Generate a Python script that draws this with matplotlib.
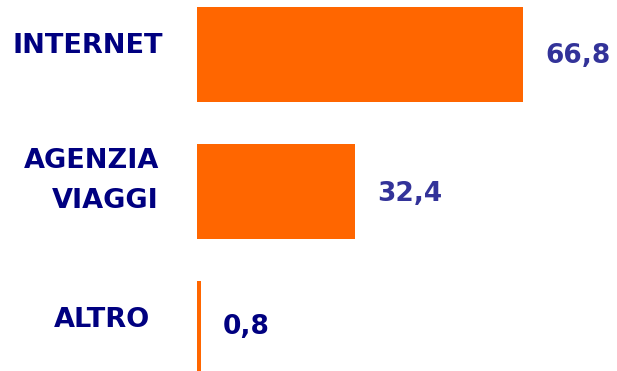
import matplotlib.pyplot as plt

# quota per canale di acquisto (%)
categorie = ["INTERNET", "AGENZIA\nVIAGGI", "ALTRO"]
valori = [66.8, 32.4, 0.8]
etichette = ["66,8", "32,4", "0,8"]
colori_valori = ["#333399", "#333399", "#000080"]

ARANCIO = "#FF6600"
BLU = "#000080"

fig = plt.figure(figsize=(6.17, 3.71), dpi=100)
ax = fig.add_axes([0, 0, 1, 1])

px = 4.88  # pixel per unità
pos = list(range(len(categorie)))
ax.barh(pos, valori, height=0.693, color=ARANCIO, edgecolor="none")

ax.set_xlim(-197 / px, (617 - 197) / px)
ax.set_ylim(2.310, -0.398)
ax.axis("off")

# etichette categorie a sinistra (allineate a destra)
x_cat = [-34 / px, -38 / px, -47 / px]
dy_cat = [-0.065, -0.08, -0.06]
for y, testo, xc, dy in zip(pos, categorie, x_cat, dy_cat):
    ax.text(xc, y + dy, testo, ha="right", va="center", multialignment="right",
            fontsize=19.5, fontweight="bold", color=BLU,
            family="DejaVu Sans", linespacing=1.7)

# valori a destra delle barre
dy_val = [0.01, 0.02, -0.01]
for y, v, lab, c, dy in zip(pos, valori, etichette, colori_valori, dy_val):
    ax.text(v + 22 / px, y + dy, lab, ha="left", va="center",
            fontsize=19, fontweight="bold", color=c, family="DejaVu Sans")

fig.savefig("out.png", dpi=100)
plt.close(fig)
